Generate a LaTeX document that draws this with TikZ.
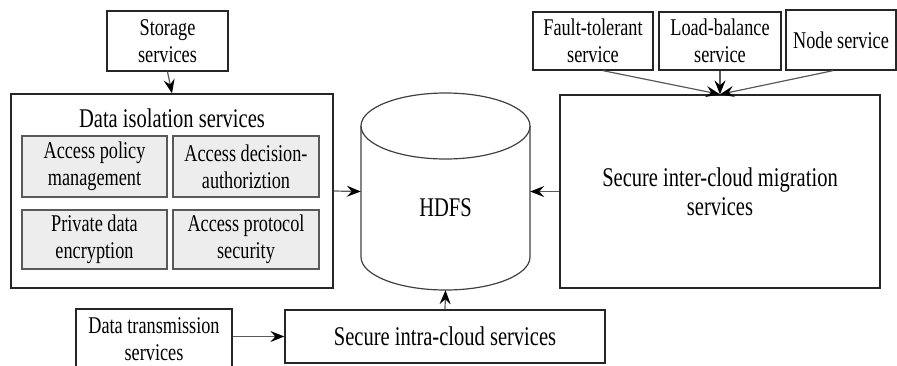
\documentclass[tikz,border=0pt]{standalone}
\usepackage{fontspec}
\setmainfont{Liberation Serif}[FakeStretch=0.76]
\usetikzlibrary{arrows.meta,calc}
\begin{document}
\begin{tikzpicture}[x=1pt,y=-1pt,
  box/.style={draw=black!85,line width=1.3pt,rectangle,align=center,inner sep=0pt,
    font=\fontsize{24}{27}\selectfont},
  inbox/.style={draw=black!65,line width=1.3pt,fill=black!7,rectangle,align=center,inner sep=0pt,
    font=\fontsize{24}{27}\selectfont},
  big/.style={font=\fontsize{27}{29}\selectfont,align=center,inner sep=0pt},
  arr/.style={draw=black!65,line width=1.2pt,-{Stealth[length=14pt,width=11pt,inset=5pt,black]}}
]
\useasboundingbox (0,0) rectangle (897,365);

% left group
\node[box,minimum width=121,minimum height=60] (store) at (167.5,41) {Storage\\services};
\node[box,minimum width=322,minimum height=194] (iso) at (172,191) {};
\node[big] (isotitle) at (172,118) {Data isolation services};
\node[inbox,minimum width=145,minimum height=61] (apm) at (94.5,166.5) {Access policy\\management};
\node[inbox,minimum width=146,minimum height=61] (adc) at (246,166.5) {Access decision-\\authoriztion};
\node[inbox,minimum width=145,minimum height=59] (pde) at (94.5,239.5) {Private data\\encryption};
\node[inbox,minimum width=146,minimum height=59] (aps) at (246,239.5) {Access protocol\\security};

% HDFS cylinder
\draw[black!75,line width=1.2pt] (445.5,126) ellipse [x radius=84.5, y radius=33];
\draw[black!75,line width=1.2pt] (361,126) -- (361,257)
  arc[start angle=180,end angle=0,x radius=84.5,y radius=33] -- (530,126);
\node[draw=none,minimum width=169,minimum height=197,inner sep=0pt] (hdfs) at (445.5,191.5) {};
\node[big] (hdfslabel) at (445.5,208) {HDFS};

% bottom
\node[box,minimum width=156,minimum height=60] (dts) at (154,339) {Data transmission\\services};
\node[box,minimum width=320,minimum height=53,font=\fontsize{27}{29}\selectfont] (intra) at (445,336.5) {Secure intra-cloud services};

% right group
\node[box,minimum width=320,minimum height=193,font=\fontsize{27}{29}\selectfont] (inter) at (720,191.5) {Secure inter-cloud migration\\services};
\node[box,minimum width=120,minimum height=58] (ft) at (593,41) {Fault-tolerant\\service};
\node[box,minimum width=122,minimum height=58] (lb) at (720,41) {Load-balance\\service};
\node[box,minimum width=110,minimum height=60] (ns) at (841,40) {Node service};

% connectors
\draw[arr] (store.south) -- (iso.north);
\draw[arr] (iso.east) -- (hdfs.west);
\draw[arr] (inter.west) -- (hdfs.east);
\draw[arr] (intra.north) -- (hdfs.south);
\draw[arr] (dts.east |- intra.west) -- (intra.west);
\draw[arr] ($(ft.south)+(10,0)$) -- (inter.north);
\draw[arr] (lb.south) -- (inter.north);
\draw[arr] ($(ns.south)+(-8,0)$) -- (inter.north);
\end{tikzpicture}
\end{document}
